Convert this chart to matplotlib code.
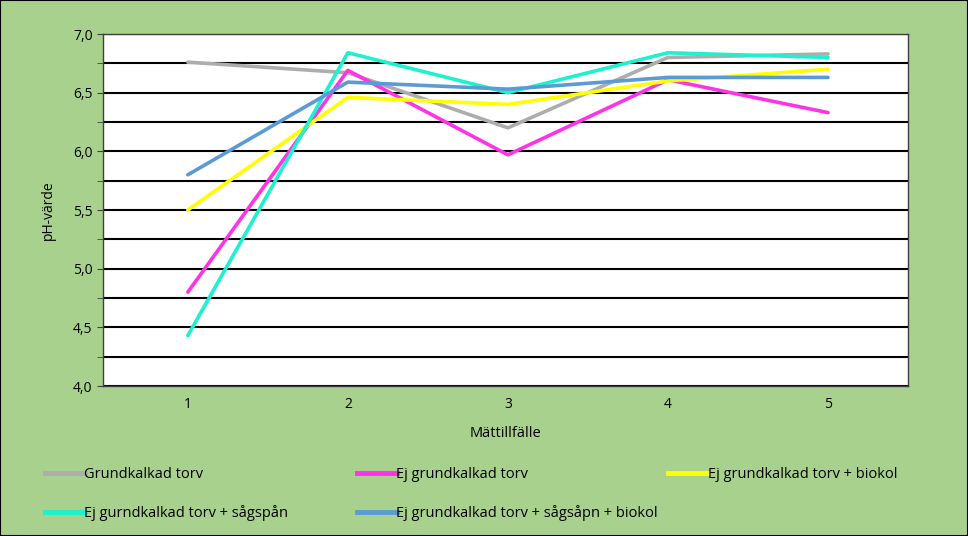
import matplotlib.pyplot as plt
from matplotlib.lines import Line2D
from matplotlib.ticker import MultipleLocator, FuncFormatter

plt.rcParams["font.family"] = ["Open Sans", "DejaVu Sans"]

matt = [1, 2, 3, 4, 5]
grundkalkad = [6.76, 6.67, 6.20, 6.80, 6.83]
ej_grund = [4.80, 6.69, 5.97, 6.61, 6.33]
ej_biokol = [5.50, 6.46, 6.40, 6.60, 6.70]
ej_sagspan = [4.43, 6.84, 6.50, 6.84, 6.80]
ej_sagspan_biokol = [5.80, 6.59, 6.53, 6.63, 6.63]

names = [
    "Grundkalkad torv",
    "Ej grundkalkad torv",
    "Ej grundkalkad torv + biokol",
    "Ej gurndkalkad torv + sågspån",
    "Ej grundkalkad torv + sågsåpn + biokol",
]
colors = ["#ADADAD", "#FF33E6", "#FFFF00", "#1CF2CF", "#5B9BD5"]
series = [grundkalkad, ej_grund, ej_biokol, ej_sagspan, ej_sagspan_biokol]

bg = "#A9D18E"
fig = plt.figure(figsize=(9.68, 5.36), dpi=100, facecolor=bg)
ax = fig.add_axes([103 / 968, 1 - 386 / 536, 805 / 968, 352 / 536])
ax.set_facecolor("white")

for vals, c in zip(series, colors):
    ax.plot(matt, vals, color=c, lw=2.6, solid_capstyle="round")

ax.set_xlim(0.47, 5.5)
ax.set_ylim(4.0, 7.0)
ax.set_xticks(matt)
ax.yaxis.set_major_locator(MultipleLocator(0.5))
ax.yaxis.set_minor_locator(MultipleLocator(0.25))
ax.yaxis.set_major_formatter(FuncFormatter(lambda v, p: f"{v:.1f}".replace(".", ",")))
ax.grid(axis="y", which="both", color="black", lw=1.5)
ax.set_axisbelow(True)
for s in ax.spines.values():
    s.set_color("#404040")
    s.set_linewidth(1.0)
ax.tick_params(axis="y", which="both", length=4, labelsize=10, color="#404040")
ax.tick_params(axis="x", length=0, labelsize=10, pad=8)
ax.set_ylabel("pH-värde", fontsize=10, labelpad=12)
ax.set_xlabel("Mättillfälle", fontsize=10.5, labelpad=10)

handles = [Line2D([], [], color=c, lw=3.5) for c in colors]
cols = [(0, 3), (1, 4), (2,)]
xs = [32, 344, 655]
for xpx, idx in zip(xs, cols):
    fig.legend(
        [handles[i] for i in idx],
        [names[i] for i in idx],
        loc="upper left",
        bbox_to_anchor=(xpx / 968, 1 - 454 / 536),
        frameon=False,
        fontsize=10.5,
        handlelength=2.7,
        handletextpad=0.0,
        labelspacing=1.6,
    )

fig.patches.append(plt.Rectangle((0, 0), 1, 1, transform=fig.transFigure,
                                 fill=False, ec="black", lw=1.5))
fig.savefig("out.png", dpi=100, facecolor=bg)
